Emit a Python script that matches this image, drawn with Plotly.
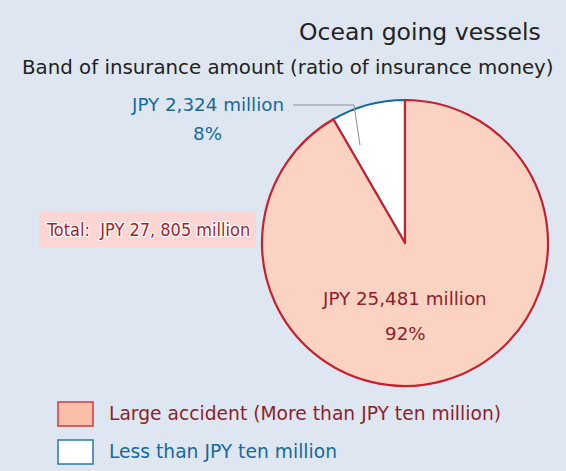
import plotly.graph_objects as go

# Insurance money by band, ocean going vessels (JPY million)
bands = ["Less than JPY ten million", "Large accident (More than JPY ten million)"]
amounts = [2324, 25481]
shares = ["8%", "92%"]
total_label = "Total:  JPY 27, 805 million"

W, H = 566, 471
BG = "#dee6f1"
RED = "#c42231"
DARK_RED = "#8e1f2c"
BLUE = "#17699c"
SALMON = "#fcd2c2"
SALMON_KEY = "#fbbea8"
FONT = "DejaVu Sans"

# small slice sits just left of 12 o'clock, so turn the start back by its share
small_angle = 360 * amounts[0] / sum(amounts)

fig = go.Figure()
fig.add_trace(go.Pie(
    labels=bands,
    values=amounts,
    sort=False,
    direction="clockwise",
    rotation=-small_angle,
    textinfo="none",
    hoverinfo="label+value+percent",
    marker=dict(colors=["#ffffff", SALMON], line=dict(color=[BLUE, RED], width=2.2)),
    domain=dict(x=[262 / W, 548 / W], y=[1 - 386 / H, 1 - 100 / H]),
    showlegend=False,
))


def px(x):
    return x / W


def py(y):
    return 1 - y / H


ann = []
ann.append(dict(x=px(543), y=py(32), text="Ocean going vessels", xanchor="right",
                font=dict(size=23.5, color="#222222", family=FONT)))
ann.append(dict(x=px(556), y=py(68), text="Band of insurance amount (ratio of insurance money)",
                xanchor="right", font=dict(size=19.8, color="#222222", family=FONT)))

# small slice labels
ann.append(dict(x=px(207), y=py(105), text=f"JPY {amounts[0]:,} million",
                font=dict(size=18.3, color=BLUE, family=FONT)))
ann.append(dict(x=px(207), y=py(134), text=shares[0],
                font=dict(size=18.3, color=BLUE, family=FONT)))
# large slice labels
ann.append(dict(x=px(404), y=py(298), text=f"JPY {amounts[1]:,} million",
                font=dict(size=18.3, color=DARK_RED, family=FONT)))
ann.append(dict(x=px(405), y=py(333), text=shares[1],
                font=dict(size=18.3, color=DARK_RED, family=FONT)))

# total
ann.append(dict(x=px(148), y=py(229), text=total_label,
                font=dict(size=18, color="#a51d2d", family="DejaVu Sans Condensed",
                          shadow="1px 0 0 #fff, -1px 0 0 #fff, 0 1px 0 #fff, 0 -1px 0 #fff, 1px 1px 0 #fff, -1px -1px 0 #fff, 1px -1px 0 #fff, -1px 1px 0 #fff")))

# legend texts
ann.append(dict(x=px(107), y=py(413), text=bands[1], xanchor="left",
                font=dict(size=18.7, color=DARK_RED, family=FONT)))
ann.append(dict(x=px(107), y=py(451), text=bands[0], xanchor="left",
                font=dict(size=18.7, color=BLUE, family=FONT)))

for a in ann:
    a.update(xref="paper", yref="paper", showarrow=False, yanchor="middle")
    a.setdefault("xanchor", "center")

shapes = [
    # pink band behind the total
    dict(type="rect", xref="paper", yref="paper", x0=px(39), x1=px(256), y0=py(247), y1=py(211),
         fillcolor="#fdd6d4", line=dict(width=0), layer="below"),
    # leader line for the small slice
    dict(type="path", xref="paper", yref="paper",
         path=f"M {px(293)} {py(105)} L {px(354)} {py(105)} L {px(360)} {py(145)}",
         line=dict(color="#8a8f96", width=1)),
    # legend keys
    dict(type="rect", xref="paper", yref="paper", x0=px(58), x1=px(93), y0=py(426), y1=py(402),
         fillcolor=SALMON_KEY, line=dict(color="#d23a45", width=1.5)),
    dict(type="rect", xref="paper", yref="paper", x0=px(58), x1=px(93), y0=py(464), y1=py(440),
         fillcolor="#ffffff", line=dict(color="#2a78a8", width=1.5)),
]

fig.update_layout(
    width=W, height=H,
    margin=dict(l=0, r=0, t=0, b=0),
    paper_bgcolor=BG, plot_bgcolor=BG,
    annotations=ann, shapes=shapes,
)

fig.write_html("out.html")
